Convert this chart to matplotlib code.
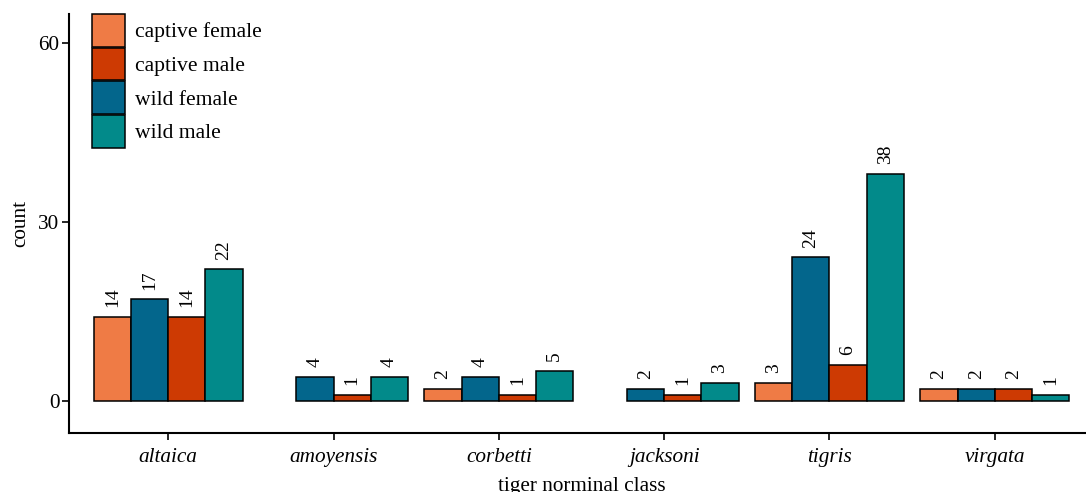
#!/usr/bin/env python3
import numpy as np
import matplotlib
matplotlib.use('Agg')
import matplotlib.pyplot as plt

FONT_NAME = 'Liberation Serif'
TICK_FONT_SIZE = 15.3
LABEL_FONT_SIZE = 15.3
LEGEND_FONT_SIZE = 15.6
BAR_TEXT_SIZE = 14

matplotlib.rcParams['font.family'] = FONT_NAME

# data
categories = ['altaica', 'amoyensis', 'corbetti', 'jacksoni', 'tigris', 'virgata']
captive_female = [14, None, 2, None, 3, 2]
wild_female = [17, 4, 4, 2, 24, 2]
captive_male = [14, 1, 1, 1, 6, 2]
wild_male = [22, 4, 5, 3, 38, 1]

legend_labels = ['captive female', 'captive male', 'wild female', 'wild male']
COLORS = {'captive female': '#EF7B45',
          'captive male': '#CD3A03',
          'wild female': '#03668C',
          'wild male': '#028A8A'}

# dodge order inside each group (as drawn in the reference)
dodge_order = [('captive female', captive_female),
               ('wild female', wild_female),
               ('captive male', captive_male),
               ('wild male', wild_male)]

W = 1086
H = 492
fig = plt.figure(figsize=(W / 100.0, H / 100.0), dpi=100)
ax = fig.add_axes([69.0 / W, 1 - 432.7 / H, (1094.0 - 69.0) / W, (432.7 - 14.0) / H])

x = np.arange(len(categories))
bw = 0.225
handles = {}
for slot, (name, vals) in enumerate(dodge_order):
    off = (slot - 1.5) * bw
    for i, v in enumerate(vals):
        if v is None:
            continue
        b = ax.bar(x[i] + off, v, width=bw, color=COLORS[name],
                   edgecolor='black', linewidth=1.1, zorder=2)
        handles[name] = b[0]
        ax.annotate(str(v), xy=(x[i] + off, v), xytext=(0, 7),
                    textcoords='offset points', rotation=90,
                    ha='center', va='bottom', fontsize=BAR_TEXT_SIZE,
                    color='black')

ax.set_xlim(-0.6, len(categories) - 0.4)
ax.set_ylim(-5.36, 64.8)
ax.set_yticks([0, 30, 60])
ax.set_xticks(x)
ax.set_xticklabels(categories, fontstyle='italic', fontsize=TICK_FONT_SIZE)
ax.tick_params(axis='y', labelsize=TICK_FONT_SIZE, length=5, width=1.2,
               pad=2, colors='black')
ax.tick_params(axis='x', length=5, width=1.2, pad=6, colors='black')

for s in ['top', 'right']:
    ax.spines[s].set_visible(False)
for s in ['left', 'bottom']:
    ax.spines[s].set_linewidth(1.5)
    ax.spines[s].set_color('black')

ax.set_ylabel('count', fontsize=LABEL_FONT_SIZE, labelpad=6)
ax.set_xlabel('tiger norminal class', fontsize=LABEL_FONT_SIZE, labelpad=7)

leg = ax.legend([handles[n] for n in legend_labels], legend_labels,
                loc='upper left', bbox_to_anchor=(93.0 / W - 0.001, 1 - 14.0 / H),
                bbox_transform=fig.transFigure, frameon=False,
                fontsize=LEGEND_FONT_SIZE, handlelength=1.55, handleheight=1.95,
                labelspacing=0.04, handletextpad=0.45, borderpad=0.0,
                borderaxespad=0.0)

fig.savefig('out.png', dpi=100)
